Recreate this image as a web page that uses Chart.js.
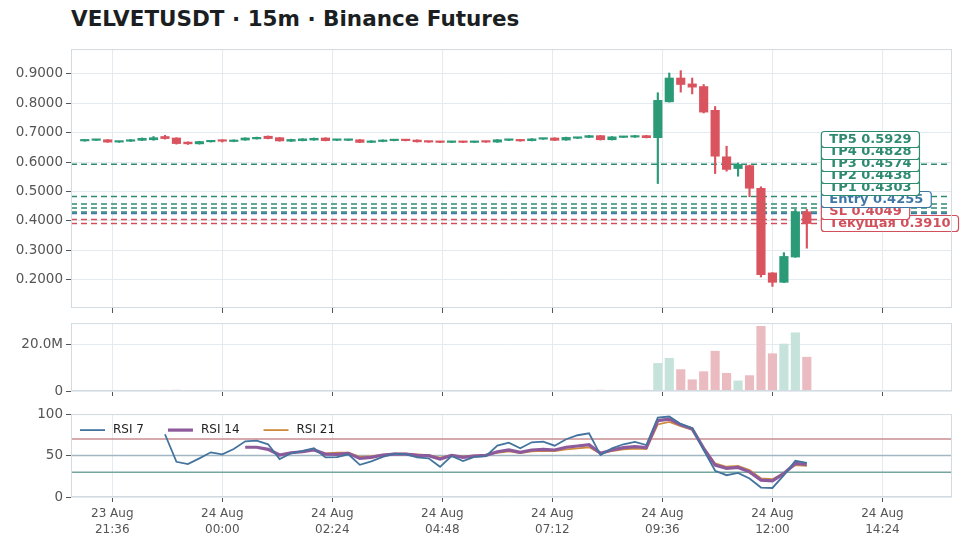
<!DOCTYPE html>
<html>
<head>
<meta charset="utf-8">
<script src="https://cdn.jsdelivr.net/npm/chart.js@4.4.1/dist/chart.umd.min.js"></script>
<style>
  body { margin: 0; background: #fff; }
  #wrap { position: relative; width: 971px; height: 548px; overflow: hidden; }
  #title { position: absolute; left: 71px; top: 5px; font: bold 21.5px "DejaVu Sans"; color: #1b1f22; line-height: 28px; white-space: nowrap; }
  .pane { position: absolute; left: 0; width: 971px; }
</style>
</head>
<body>
<div id="wrap">
  <div id="title">VELVETUSDT · 15m · Binance Futures</div>
  <div class="pane" style="top:38px;height:282px"><canvas id="cPrice"></canvas></div>
  <div class="pane" style="top:312px;height:92px"><canvas id="cVol"></canvas></div>
  <div class="pane" style="top:403px;height:145px"><canvas id="cRsi"></canvas></div>
</div>
<script>
// свечи 15m, первая в 23 Aug 21:00
const startDay = '23 Aug';
const startTime = '21:00';
const stepMin = 15;

const opens = [0.672,0.674,0.676,0.668,0.671,0.674,0.676,0.687,0.682,0.668,
  0.662,0.669,0.673,0.670,0.675,0.679,0.688,0.683,0.671,0.673,
  0.675,0.682,0.674,0.674,0.676,0.667,0.670,0.673,0.675,0.675,
  0.670,0.670,0.667,0.670,0.667,0.670,0.668,0.674,0.674,0.673,
  0.678,0.682,0.675,0.681,0.684,0.690,0.676,0.684,0.685,0.690,
  0.683,0.805,0.886,0.866,0.857,0.776,0.618,0.578,0.588,0.511,
  0.223,0.191,0.277,0.431];
const highs = [0.675,0.677,0.677,0.670,0.677,0.682,0.687,0.691,0.683,0.669,
  0.671,0.674,0.676,0.676,0.683,0.685,0.689,0.684,0.678,0.680,
  0.682,0.683,0.676,0.676,0.677,0.673,0.676,0.676,0.676,0.676,
  0.671,0.671,0.671,0.671,0.671,0.671,0.677,0.677,0.677,0.680,
  0.681,0.683,0.685,0.684,0.691,0.691,0.687,0.687,0.691,0.691,
  0.836,0.903,0.911,0.886,0.864,0.789,0.654,0.597,0.590,0.516,
  0.224,0.292,0.439,0.439];
const lows = [0.671,0.673,0.667,0.667,0.670,0.673,0.674,0.678,0.661,0.660,
  0.661,0.668,0.668,0.669,0.674,0.678,0.679,0.671,0.670,0.672,
  0.674,0.672,0.673,0.673,0.666,0.666,0.669,0.672,0.672,0.668,
  0.667,0.666,0.666,0.666,0.666,0.667,0.667,0.673,0.671,0.672,
  0.677,0.673,0.674,0.680,0.683,0.675,0.675,0.683,0.684,0.682,
  0.527,0.804,0.838,0.832,0.767,0.561,0.569,0.552,0.482,0.209,
  0.177,0.190,0.276,0.307];
const closes = [0.674,0.676,0.668,0.669,0.675,0.681,0.683,0.680,0.663,0.662,
  0.670,0.673,0.671,0.675,0.682,0.683,0.680,0.672,0.677,0.679,
  0.681,0.673,0.675,0.675,0.667,0.672,0.675,0.675,0.673,0.669,
  0.668,0.667,0.670,0.667,0.670,0.668,0.676,0.676,0.672,0.679,
  0.680,0.674,0.684,0.683,0.690,0.676,0.686,0.686,0.690,0.683,
  0.810,0.886,0.864,0.855,0.770,0.620,0.575,0.592,0.511,0.217,
  0.191,0.279,0.431,0.391];
// объём, млн
const volumesM = [0.25,0.18,0.22,0.15,0.20,0.30,0.28,0.35,0.40,0.30,
  0.22,0.20,0.18,0.16,0.24,0.20,0.26,0.30,0.20,0.18,
  0.22,0.25,0.15,0.12,0.28,0.20,0.17,0.15,0.14,0.20,
  0.16,0.18,0.15,0.17,0.16,0.14,0.25,0.18,0.20,0.26,
  0.20,0.30,0.32,0.20,0.35,0.40,0.30,0.22,0.30,0.35,
  12.0,14.2,9.3,4.9,8.4,17.3,7.7,4.4,6.7,28.1,
  16.2,20.4,25.3,14.7];

const rsi7 = [null,null,null,null,null,null,null,75.7,42.5,39.7,
  46.6,53.9,51.5,57.9,67.2,68.0,63.6,45.8,52.7,55.5,
  58.7,47.8,48.2,51.5,38.8,43.0,48.5,52.2,51.8,47.8,
  46.6,36.4,49.4,43.3,48.5,49.4,61.9,65.5,58.7,66.0,
  66.7,61.9,69.7,74.5,76.9,50.6,58.7,63.6,66.4,62.7,
  95.9,97.1,88.2,83.0,56.7,31.6,26.3,29.1,22.3,11.4,
  10.9,26.3,43.7,41.3];
const rsi14 = [null,null,null,null,null,null,null,null,null,null,
  null,null,null,null,60.0,60.0,57.5,50.6,53.4,54.6,
  56.7,51.8,51.5,52.7,46.6,47.8,50.6,51.8,51.8,50.2,
  49.8,45.8,50.2,47.8,49.4,50.2,54.6,56.7,53.9,56.7,
  57.5,56.7,60.0,61.5,63.1,52.7,56.7,59.5,60.7,59.5,
  92.2,93.9,87.0,82.2,58.7,38.5,34.5,35.7,30.3,20.3,
  19.4,28.4,40.5,39.3];
const rsi21 = [null,null,null,null,null,null,null,null,null,null,
  null,null,null,null,null,null,null,null,null,null,
  null,52.7,53.4,53.4,48.5,49.4,50.9,52.2,52.2,51.5,
  50.6,47.4,50.6,49.0,50.2,50.6,53.4,55.0,53.0,55.0,
  55.8,55.5,57.5,58.7,60.0,52.5,55.5,57.5,58.5,57.9,
  87.5,90.5,85.5,81.0,59.5,40.5,36.5,37.5,32.5,22.5,
  21.5,29.0,38.5,37.5];
const rsiLevels = [70, 50, 30];

// уровни сигнала
const levelNames = ['TP5', 'TP4', 'TP3', 'TP2', 'TP1', 'Entry', 'SL', 'Текущая'];
const levelValues = [0.5929, 0.4828, 0.4574, 0.4438, 0.4303, 0.4255, 0.4049, 0.3910];
const levelKinds = ['tp', 'tp', 'tp', 'tp', 'tp', 'entry', 'sl', 'cur'];

// подписи оси времени
const xTickDays = ['23 Aug', '24 Aug', '24 Aug', '24 Aug', '24 Aug', '24 Aug', '24 Aug', '24 Aug'];
const xTickTimes = ['21:36', '00:00', '02:24', '04:48', '07:12', '09:36', '12:00', '14:24'];

const FONT = 'DejaVu Sans';
const UP = '#2a9a77', DOWN = '#d9545e';
const UP_VOL = '#c5e3da', DOWN_VOL = '#eabcc1';
const GRID = '#e4ebf0', FRAME = '#d3dbe1', TICK = '#555';
const kindColor = { tp: '#2e8b70', entry: '#3f77a6', sl: '#d0505b', cur: '#d0505b' };

function toMin(t) { const p = t.split(':'); return +p[0] * 60 + +p[1]; }
const dayOffset = d => (d === startDay ? 0 : 1440);
const xTickVals = xTickTimes.map((t, i) => dayOffset(xTickDays[i]) + toMin(t) - toMin(startTime));

const n = closes.length;
const xs = closes.map((c, i) => i * stepMin);
const isUp = closes.map((c, i) => c >= opens[i]);
const X_MIN = -18, X_MAX = (n - 1) * stepMin + 190;

const allLow = Math.min(...lows), allHigh = Math.max(...highs);
const pad = (allHigh - allLow) * 0.1;

function xAxis(height, showLabels) {
  return {
    type: 'linear', min: X_MIN, max: X_MAX, offset: false,
    afterBuildTicks: s => { s.ticks = xTickVals.map(v => ({ value: v })); },
    afterFit: s => { s.height = height; },
    grid: { color: GRID, offset: false, tickColor: TICK, tickLength: 5, drawTicks: true },
    border: { display: false },
    ticks: {
      display: showLabels, color: TICK, padding: 4, maxRotation: 0, autoSkip: false,
      font: { family: FONT, size: 12, lineHeight: 1.3 },
      callback: v => { const i = xTickVals.indexOf(v); return i < 0 ? '' : [xTickDays[i], xTickTimes[i]]; }
    }
  };
}
function yAxis(extra) {
  return Object.assign({
    afterFit: s => { s.width = 71; },
    grid: { color: GRID, tickColor: TICK, tickLength: 5 },
    border: { display: false },
  }, extra);
}

const framePlugin = {
  id: 'frame',
  afterDraw(chart) {
    const { ctx, chartArea: a } = chart;
    ctx.save();
    ctx.strokeStyle = FRAME; ctx.lineWidth = 1;
    ctx.strokeRect(a.left + 0.5, a.top + 0.5, a.width - 1, a.height - 1);
    ctx.restore();
  }
};

const levelPlugin = {
  id: 'levels',
  beforeDatasetsDraw(chart) {
    const { ctx, chartArea: a, scales: { y } } = chart;
    ctx.save();
    ctx.beginPath(); ctx.rect(a.left, a.top, a.width, a.height); ctx.clip();
    ctx.setLineDash([6, 4]); ctx.lineWidth = 1.6;
    levelValues.forEach((v, i) => {
      const py = y.getPixelForValue(v);
      ctx.strokeStyle = kindColor[levelKinds[i]];
      ctx.beginPath(); ctx.moveTo(a.left, py); ctx.lineTo(a.right, py); ctx.stroke();
    });
    ctx.restore();
  },
  afterDraw(chart) {
    const { ctx, scales: { x, y } } = chart;
    // снизу вверх, чтобы подписи не налезали целиком
    const order = levelValues.map((v, i) => i).sort((a, b) => levelValues[a] - levelValues[b]);
    const lx = x.getPixelForValue((n - 1) * stepMin + 19);
    const h = 16, gap = 12;
    let prev = Infinity;
    ctx.save();
    ctx.font = 'bold 13px "' + FONT + '"';
    ctx.textBaseline = 'middle';
    order.forEach(i => {
      const cy = Math.min(y.getPixelForValue(levelValues[i]), prev - gap);
      prev = cy;
      const txt = levelNames[i] + ' ' + levelValues[i].toFixed(4);
      const w = ctx.measureText(txt).width + 16;
      const col = kindColor[levelKinds[i]];
      ctx.beginPath();
      ctx.roundRect(lx, cy - h / 2, w, h, 3);
      ctx.fillStyle = '#fff'; ctx.fill();
      ctx.strokeStyle = col; ctx.lineWidth = 1.2; ctx.stroke();
      ctx.fillStyle = col;
      ctx.fillText(txt, lx + 8, cy + 0.5);
    });
    ctx.restore();
  }
};

const rsiLevelPlugin = {
  id: 'rsiLevels',
  beforeDatasetsDraw(chart) {
    const { ctx, chartArea: a, scales: { y } } = chart;
    const cols = ['#c98d90', '#a2b7c2', '#76a6a0'];
    ctx.save();
    ctx.lineWidth = 1.5;
    rsiLevels.forEach((v, i) => {
      const py = y.getPixelForValue(v);
      ctx.strokeStyle = cols[i];
      ctx.beginPath(); ctx.moveTo(a.left, py); ctx.lineTo(a.right, py); ctx.stroke();
    });
    ctx.restore();
  },
  afterDatasetsDraw(chart) {
    // легенда в одну строку слева сверху
    const { ctx, chartArea: a } = chart;
    let lx = a.left + 9;
    const ly = a.top + 16;
    ctx.save();
    ctx.font = '12px "' + FONT + '"';
    ctx.textBaseline = 'middle';
    chart.data.datasets.forEach(ds => {
      ctx.strokeStyle = ds.borderColor; ctx.lineWidth = ds.borderWidth;
      ctx.beginPath(); ctx.moveTo(lx, ly); ctx.lineTo(lx + 25, ly); ctx.stroke();
      ctx.fillStyle = '#222';
      ctx.fillText(ds.label, lx + 33, ly);
      lx += 33 + ctx.measureText(ds.label).width + 24;
    });
    ctx.restore();
  }
};

Chart.defaults.font.family = FONT;
Chart.defaults.animation = false;
Chart.defaults.responsive = true;
Chart.defaults.maintainAspectRatio = false;
Chart.defaults.plugins.tooltip.enabled = false;

new Chart(document.getElementById('cPrice'), {
  type: 'bar',
  data: {
    datasets: [
      {
        label: 'wick', grouped: false, barThickness: 1.5,
        data: xs.map((t, i) => ({ x: t, y: [lows[i], highs[i]] })),
        backgroundColor: isUp.map(u => (u ? UP : DOWN))
      },
      {
        label: 'body', grouped: false, barThickness: 8.5, minBarLength: 1.5,
        data: xs.map((t, i) => ({ x: t, y: [opens[i], closes[i]] })),
        backgroundColor: isUp.map(u => (u ? UP : DOWN))
      }
    ]
  },
  options: {
    layout: { padding: { top: 8, right: 19, left: 0, bottom: 0 } },
    plugins: { legend: { display: false } },
    scales: {
      x: xAxis(12, false),
      y: yAxis({
        min: allLow - pad, max: allHigh + pad,
        afterBuildTicks: s => { s.ticks = [0.2, 0.3, 0.4, 0.5, 0.6, 0.7, 0.8, 0.9].map(v => ({ value: v })); },
        ticks: { color: TICK, padding: 3, font: { size: 13.5 }, callback: v => v.toFixed(4) }
      })
    }
  },
  plugins: [levelPlugin, framePlugin]
});

const volMax = Math.max(...volumesM) * 1.05;
new Chart(document.getElementById('cVol'), {
  type: 'bar',
  data: {
    datasets: [{
      label: 'Volume', barThickness: 8.5,
      data: xs.map((t, i) => ({ x: t, y: volumesM[i] * 1e6 })),
      backgroundColor: isUp.map(u => (u ? UP_VOL : DOWN_VOL))
    }]
  },
  options: {
    layout: { padding: { top: 8, right: 19, left: 0, bottom: 0 } },
    plugins: { legend: { display: false } },
    scales: {
      x: xAxis(13, false),
      y: yAxis({
        min: 0, max: volMax * 1e6,
        afterBuildTicks: s => { s.ticks = [0, 20e6].map(v => ({ value: v })); },
        ticks: { color: TICK, padding: 3, font: { size: 13.5 }, callback: v => (v === 0 ? '0' : (v / 1e6).toFixed(1) + 'M') }
      })
    }
  },
  plugins: [framePlugin]
});

const rsiSet = (label, arr, color, width) => ({
  label, borderColor: color, backgroundColor: color, borderWidth: width,
  pointRadius: 0, tension: 0, spanGaps: false,
  data: xs.map((t, i) => ({ x: t, y: arr[i] }))
});
new Chart(document.getElementById('cRsi'), {
  type: 'line',
  data: {
    datasets: [
      rsiSet('RSI 7', rsi7, '#44739e', 1.8),
      rsiSet('RSI 14', rsi14, '#8d5a9c', 3.2),
      rsiSet('RSI 21', rsi21, '#cf8a3e', 1.8)
    ]
  },
  options: {
    layout: { padding: { top: 9, right: 19, left: 0, bottom: 0 } },
    plugins: { legend: { display: false } },
    scales: {
      x: xAxis(51, true),
      y: yAxis({
        min: 0, max: 100,
        afterBuildTicks: s => { s.ticks = [0, 50, 100].map(v => ({ value: v })); },
        ticks: { color: TICK, padding: 3, font: { size: 13.5 } }
      })
    }
  },
  plugins: [rsiLevelPlugin, framePlugin]
});
</script>
</body>
</html>
